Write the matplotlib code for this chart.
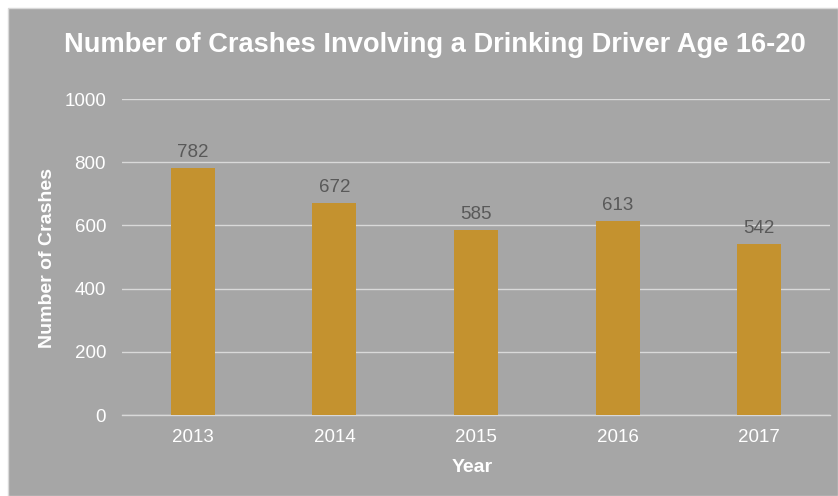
import matplotlib
matplotlib.use("Agg")
import matplotlib.pyplot as plt
from matplotlib.patches import Rectangle

years = ["2013", "2014", "2015", "2016", "2017"]
crashes = [782, 672, 585, 613, 542]
yticks = [0, 200, 400, 600, 800, 1000]

plt.rcParams['font.family'] = ['Liberation Sans', 'DejaVu Sans']

W, H = 838, 496
fig = plt.figure(figsize=(W/100, H/100), dpi=100, facecolor='white')
bg = '#A6A6A6'
fig.patches.append(Rectangle((8/W, 0), 1 - 8/W, 1 - 8/H, transform=fig.transFigure,
                             facecolor=bg, edgecolor='#D9D9D9', linewidth=1.0, zorder=-5))

ax = fig.add_axes([122/W, 1 - 415/H, (830-122)/W, (415-99)/H])
ax.patch.set_alpha(0)

x = list(range(len(years)))
bars = ax.bar(x, crashes, width=0.31, color='#C4922F', zorder=3)
for xi, v in zip(x, crashes):
    ax.annotate(str(v), (xi, v), xytext=(0, 5), textcoords='offset points',
                ha='center', va='bottom', fontsize=13.5, color='#595959')

ax.set_xlim(-0.5, len(years) - 0.5)
ax.set_ylim(0, 1000)
ax.set_yticks(yticks)
ax.set_yticklabels([str(t) for t in yticks])
ax.set_xticks(x)
ax.set_xticklabels(years)
ax.tick_params(axis='both', length=0, colors='white', labelsize=13.5)
ax.tick_params(axis='y', pad=11.5)
ax.tick_params(axis='x', pad=10)
ax.grid(axis='y', color='#D9D9D9', linewidth=1.0, zorder=0)
for s in ['top', 'right', 'left']:
    ax.spines[s].set_visible(False)
ax.spines['bottom'].set_color('#D9D9D9')
ax.spines['bottom'].set_linewidth(1.0)

fig.text(435/W, 1 - 45/H, 'Number of Crashes Involving a Drinking Driver Age 16-20',
         ha='center', va='center', fontsize=19.6, fontweight='bold', color='white')
fig.text(47/W, 1 - 257.5/H, 'Number of Crashes', rotation=90, ha='center', va='center',
         fontsize=14, fontweight='bold', color='white')
fig.text(472/W, 1 - 467/H, 'Year', ha='center', va='center',
         fontsize=14, fontweight='bold', color='white')

fig.savefig('out.png', dpi=100, facecolor='white')
